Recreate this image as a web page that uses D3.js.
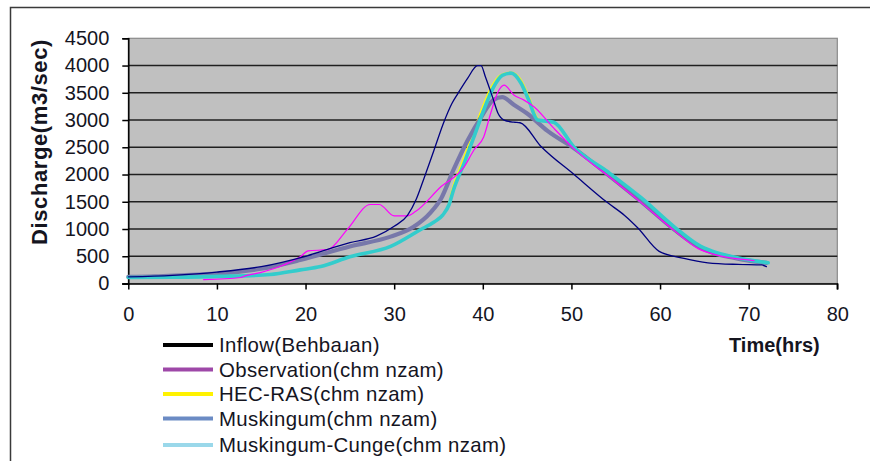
<!DOCTYPE html>
<html>
<head>
<meta charset="utf-8">
<script src="https://cdn.jsdelivr.net/npm/d3@7"></script>
<style>
  html, body { margin: 0; padding: 0; background: #ffffff; }
  svg { display: block; }
  text { font-family: "Liberation Sans", Arial, sans-serif; fill: #15151f; }
</style>
</head>
<body>
<svg id="chart" width="870" height="461"></svg>
<script>
// ---------------- data ----------------
const seriesNames = ["Inflow(Behbaɹan)", "Observation(chm nzam)", "HEC-RAS(chm nzam)", "Muskingum(chm nzam)", "Muskingum-Cunge(chm nzam)"];

const inflowT = [0, 5, 10, 15, 20, 25, 28, 30, 31.5, 32.5, 33.3, 34.5, 35.6, 36.5, 37.2, 38.3, 39.4, 39.8, 40.3, 41.1, 41.7, 42.4, 43.5, 44.2, 46.6, 50.3, 54.1, 56, 57.5, 59.9, 62.7, 65.4, 68.8, 71.5, 72];
const inflowV = [120, 150, 210, 310, 500, 750, 870, 1050, 1250, 1550, 1900, 2450, 2960, 3300, 3490, 3770, 4000, 4000, 3790, 3420, 3130, 3000, 2960, 2950, 2510, 2000, 1480, 1250, 1020, 590, 460, 380, 350, 340, 310];

const obsT = [8.5, 12.7, 13.2, 14.9, 17.4, 19.4, 20.3, 22.5, 24.7, 27.3, 28.3, 30, 31.5, 32.4, 35.3, 37.9, 39, 40.1, 40.9, 41.7, 42.4, 43.5, 44.6, 45.8, 48, 50.3, 54.1, 57.9, 61.6, 64.3, 66, 68.4, 70.6];
const obsV = [70, 110, 140, 200, 330, 490, 600, 620, 990, 1450, 1450, 1240, 1240, 1320, 1780, 2140, 2450, 2690, 3130, 3510, 3640, 3460, 3370, 3240, 2850, 2470, 1980, 1480, 970, 640, 540, 460, 420];

const hecT = [0, 5, 10.4, 16, 19.4, 21.7, 25, 29.6, 33, 34.5, 35.5, 36.1, 36.5, 37.6, 38.7, 39.8, 40.9, 42, 43.2, 44.4, 45.2, 46.3, 48, 50.3, 54.1, 57.9, 61.6, 64.6, 66.5, 68.8, 70.5, 72.2];
const hecV = [110, 115, 130, 165, 250, 310, 490, 680, 990, 1130, 1260, 1450, 1720, 2210, 2690, 3180, 3600, 3830, 3880, 3720, 3440, 3020, 2960, 2500, 2050, 1570, 1040, 680, 560, 470, 420, 380];

const muskT = [0, 3, 6, 10, 15, 19.4, 25, 29.6, 32.2, 34.1, 35.3, 36.7, 38.3, 39.8, 41.2, 42.2, 43.5, 45, 47.3, 50.3, 54.1, 57.9, 61.6, 64.3, 66, 68.4, 70, 72];
const muskV = [120, 130, 150, 180, 270, 430, 680, 860, 1040, 1300, 1560, 2090, 2630, 3050, 3370, 3420, 3280, 3120, 2800, 2480, 2000, 1500, 990, 680, 560, 470, 420, 380];

const cungeT = [0, 5, 10.4, 16, 19.4, 21.7, 25, 29.6, 33, 34.5, 35.5, 36.2, 36.7, 37.9, 39, 40.1, 41.2, 42.2, 43.2, 44.3, 45.1, 46.2, 48, 50.3, 54.1, 57.9, 61.6, 64.6, 66.5, 68.8, 70.5, 72.2];
const cungeV = [110, 115, 130, 165, 250, 310, 490, 680, 990, 1130, 1260, 1450, 1720, 2210, 2690, 3180, 3600, 3820, 3860, 3680, 3400, 3000, 2960, 2500, 2050, 1570, 1040, 680, 560, 470, 420, 380];

const xTicks = [0, 10, 20, 30, 40, 50, 60, 70, 80];
const yTicks = [0, 500, 1000, 1500, 2000, 2500, 3000, 3500, 4000, 4500];

// ---------------- layout ----------------
const svg = d3.select("#chart");
const L = 128.3, R = 837.3, T = 38.3, B = 283.5;
const x = d3.scaleLinear().domain([0, 80]).range([L, R]);
const y = d3.scaleLinear().domain([0, 4500]).range([B, T]);

// outer frame
svg.append("path")
  .attr("d", `M10.5,461 L10.5,7.5 L880,7.5`)
  .attr("fill", "none").attr("stroke", "#3a3a3a").attr("stroke-width", 1.5);

// plot area
svg.append("rect").attr("x", L).attr("y", T).attr("width", R - L).attr("height", B - T)
  .attr("fill", "#c0c0c0").attr("stroke", "#8a8a8a").attr("stroke-width", 1.2);

// grid lines
svg.append("g").selectAll("line").data(yTicks.filter(v => v > 0 && v < 4500)).join("line")
  .attr("x1", L).attr("x2", R).attr("y1", d => y(d)).attr("y2", d => y(d))
  .attr("stroke", "#202020").attr("stroke-width", 1.6);

// axes
const yAxis = svg.append("g").attr("transform", `translate(${L},0)`)
  .call(d3.axisLeft(y).tickValues(yTicks).tickSize(6).tickPadding(13).tickFormat(d3.format("d")));
const xAxis = svg.append("g").attr("transform", `translate(0,${B})`)
  .call(d3.axisBottom(x).tickValues(xTicks).tickSize(6).tickPadding(17.5).tickFormat(d3.format("d")));
[yAxis, xAxis].forEach(a => {
  a.select(".domain").attr("stroke", "#000").attr("stroke-width", 1.5);
  a.selectAll(".tick line").attr("stroke", "#000").attr("stroke-width", 1.5);
  a.selectAll(".tick text").attr("font-size", 20).attr("fill", "#15151f")
    .attr("font-family", "'Liberation Sans', Arial, sans-serif");
});
xAxis.select(".domain").attr("d", `M${L - 6},0.5H${R}V6`);

// ---------------- series ----------------
const zip = (ts, vs) => ts.map((t, i) => [t, vs[i]]);
const line = d3.line().x(d => x(d[0])).y(d => y(d[1])).curve(d3.curveMonotoneX);
const plot = svg.append("g");

const drawOrder = [
  { data: zip(hecT, hecV), color: "#ffff00", width: 1.2 },
  { data: zip(muskT, muskV), color: "#7878aa", width: 4.2 },
  { data: zip(cungeT, cungeV), color: "#33cccc", width: 3.6 },
  { data: zip(obsT, obsV), color: "#ff00ff", width: 1.2 },
  { data: zip(inflowT, inflowV), color: "#000080", width: 1.3 }
];
drawOrder.forEach(s => {
  plot.append("path").datum(s.data)
    .attr("d", line).attr("fill", "none")
    .attr("stroke", s.color).attr("stroke-width", s.width)
    .attr("stroke-linejoin", "round").attr("stroke-linecap", "round");
});

// ---------------- titles ----------------
svg.append("text")
  .attr("transform", "translate(47,142) rotate(-90)")
  .attr("text-anchor", "middle")
  .attr("font-size", 22).attr("font-weight", "bold").attr("letter-spacing", 0.6)
  .text("Discharge(m3/sec)");

svg.append("text")
  .attr("x", 729).attr("y", 352)
  .attr("font-size", 20).attr("font-weight", "bold")
  .text("Time(hrs)");

// ---------------- legend ----------------
const legendColors = ["#000000", "#9e48a8", "#fff200", "#6b8bc4", "#9ad8ea"];
const legendY = [345, 369.5, 394, 418.5, 445];
const lg = svg.append("g");
seriesNames.forEach((name, i) => {
  lg.append("line").attr("x1", 163).attr("x2", 213)
    .attr("y1", legendY[i]).attr("y2", legendY[i])
    .attr("stroke", legendColors[i]).attr("stroke-width", 4);
  lg.append("text").attr("x", 219).attr("y", legendY[i]).attr("dy", "0.36em")
    .attr("font-size", 20.4).attr("letter-spacing", 0.35).text(name);
});
</script>
</body>
</html>
